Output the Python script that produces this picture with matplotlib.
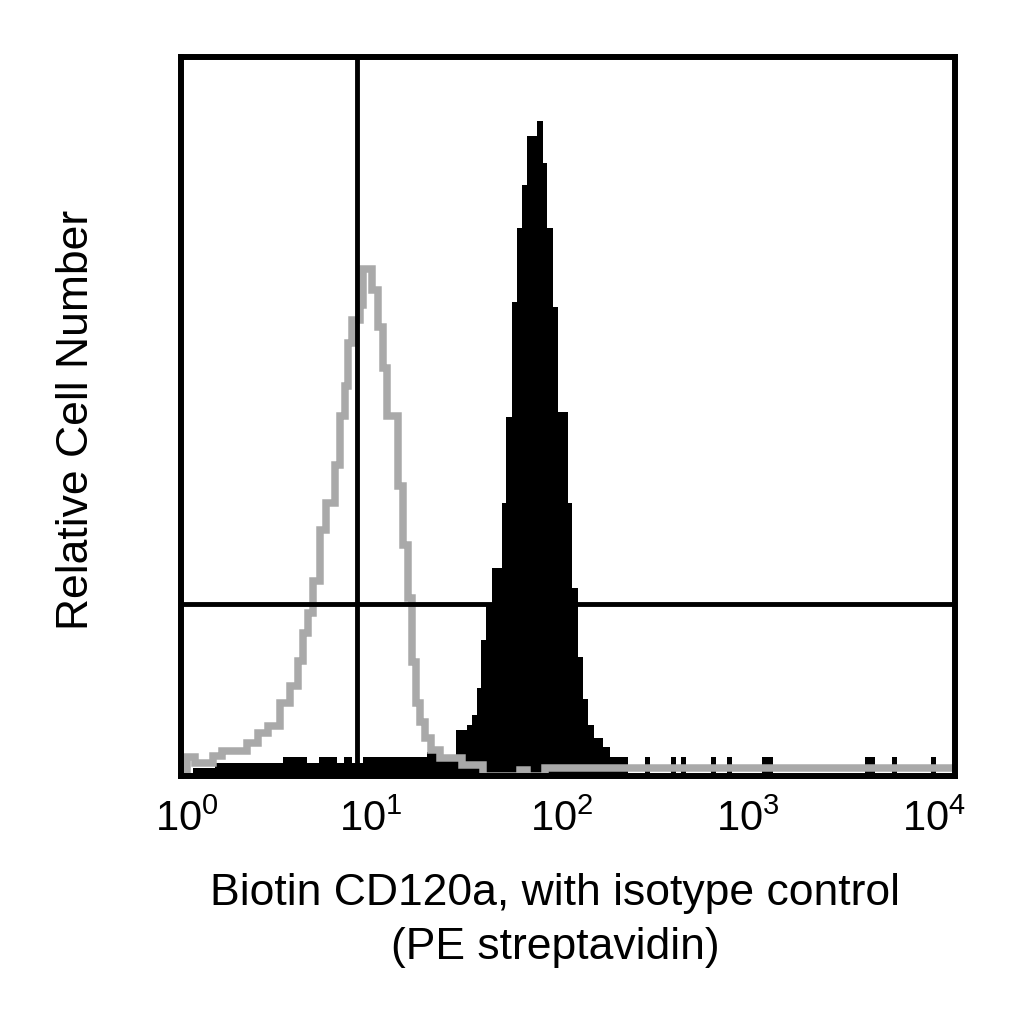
import numpy as np
import matplotlib
matplotlib.use("Agg")
import matplotlib.pyplot as plt
import matplotlib.transforms as mtransforms

plt.rcParams['font.family'] = ['Liberation Sans', 'DejaVu Sans']
plt.rcParams['mathtext.fontset'] = 'custom'
plt.rcParams['mathtext.rm'] = 'Liberation Sans'
plt.rcParams['mathtext.it'] = 'Liberation Sans:italic'

# ---- data (x in log10 fluorescence units, y in relative cell number, 0-100) ----
black_log_edges = [0.062, 0.176, 0.527, 0.651, 0.713, 0.806, 0.842, 0.884, 0.941, 1.271, 1.323,
                   1.421, 1.477, 1.502, 1.528, 1.549, 1.576, 1.606, 1.657, 1.680, 1.709, 1.738,
                   1.761, 1.790, 1.838, 1.869, 1.890, 1.921, 1.950, 1.998, 2.019, 2.050, 2.079,
                   2.105, 2.134, 2.182, 2.217, 2.312, 2.398, 2.424, 2.532, 2.558, 2.584, 2.610,
                   2.739, 2.765, 2.822, 2.847, 3.003, 3.059, 3.535, 3.587, 3.674, 3.700, 3.876,
                   3.902]
black_counts = [1.1, 1.8, 2.6, 1.8, 2.6, 1.8, 2.6, 1.8, 2.6, 3.3, 2.2,
                6.4, 7.1, 8.5, 12.2, 18.9, 23.9, 28.9, 38.0, 49.9, 65.9, 76.2, 82.2, 89.0,
                91.1, 85.3, 76.2, 65.2, 50.6, 38.0, 26.2, 16.6, 10.7, 7.1, 5.3, 4.0, 2.6,
                0, 2.6, 0, 2.6, 0, 2.6, 0, 2.6, 0, 2.6, 0, 2.6, 0, 2.6, 0, 2.6, 0, 2.6]

gray_log_edges = [0.0, 0.031, 0.072, 0.165, 0.212, 0.341, 0.398, 0.450, 0.512, 0.563, 0.605,
                  0.630, 0.656, 0.682, 0.718, 0.749, 0.796, 0.822, 0.848, 0.863, 0.884, 0.925,
                  0.941, 0.987, 1.018, 1.044, 1.065, 1.121, 1.147, 1.173, 1.194, 1.214, 1.235,
                  1.261, 1.292, 1.339, 1.452, 1.561, 1.752, 1.788, 1.881, 4.0]
gray_counts = [0.1, 2.6, 1.8, 2.8, 3.5, 4.6, 6.0, 7.0, 10.2, 12.5, 16.0, 19.9, 22.7, 27.1,
               34.2, 38.0, 43.3, 50.1, 54.2, 60.2, 63.4, 65.5, 70.5, 67.6, 62.4, 56.7, 50.1,
               40.3, 32.1, 24.8, 15.9, 10.2, 7.5, 5.3, 3.6, 2.5, 1.5, 0.0, 0.8, 0.0, 1.1]

gate_x = 8.07          # vertical marker (fluorescence)
gate_y = 23.9          # horizontal marker (relative cell number)
x_ticks = [1, 10, 100, 1000, 10000]
x_tick_labels = [r'$\mathregular{10^{0}}$', r'$\mathregular{10^{1}}$', r'$\mathregular{10^{2}}$',
                 r'$\mathregular{10^{3}}$', r'$\mathregular{10^{4}}$']
xlabel_lines = ["Biotin CD120a, with isotype control", "(PE streptavidin)"]
ylabel = "Relative Cell Number"

# horizontal nudges (pixels) of the tick labels as placed in the original
label_nudge_px = [6, -4, -6, -14, -21]

# ---- figure ----
fig = plt.figure(figsize=(10.24, 10.24), dpi=100)
ax = fig.add_axes([0.1768, 0.2422, 0.7559, 0.7021])

ax.stairs(black_counts, 10 ** np.array(black_log_edges), fill=True, color='black',
          linewidth=0, zorder=2.1)
ax.stairs(gray_counts, 10 ** np.array(gray_log_edges), color='#a9a9a9', linewidth=5.4,
          baseline=None, zorder=2.2)

ax.axvline(gate_x, color='black', linewidth=3.5, zorder=2.3)
ax.axhline(gate_y, color='black', linewidth=3.5, zorder=2.3)

ax.set_xscale('log')
ax.set_xlim(1, 10000)
ax.set_ylim(0, 100)
ax.set_xticks(x_ticks)
ax.set_xticklabels(x_tick_labels)
ax.minorticks_off()
ax.set_yticks([])
ax.tick_params(axis='x', length=0, pad=17, labelsize=30)
for lbl, dx in zip(ax.get_xticklabels(), label_nudge_px):
    lbl.set_transform(lbl.get_transform() +
                      mtransforms.ScaledTranslation(dx / 100, 0, fig.dpi_scale_trans))
for s in ax.spines.values():
    s.set_linewidth(4.3)
    s.set_zorder(3)

fig.text(555 / 1024, 1 - 893 / 1024, xlabel_lines[0], ha='center', va='center', fontsize=32)
fig.text(555 / 1024, 1 - 948 / 1024, xlabel_lines[1], ha='center', va='center', fontsize=32)
fig.text(77 / 1024, 1 - 420 / 1024, ylabel, ha='center', va='center', rotation=90, fontsize=32)

fig.savefig('out.png', dpi=100, facecolor='white')
